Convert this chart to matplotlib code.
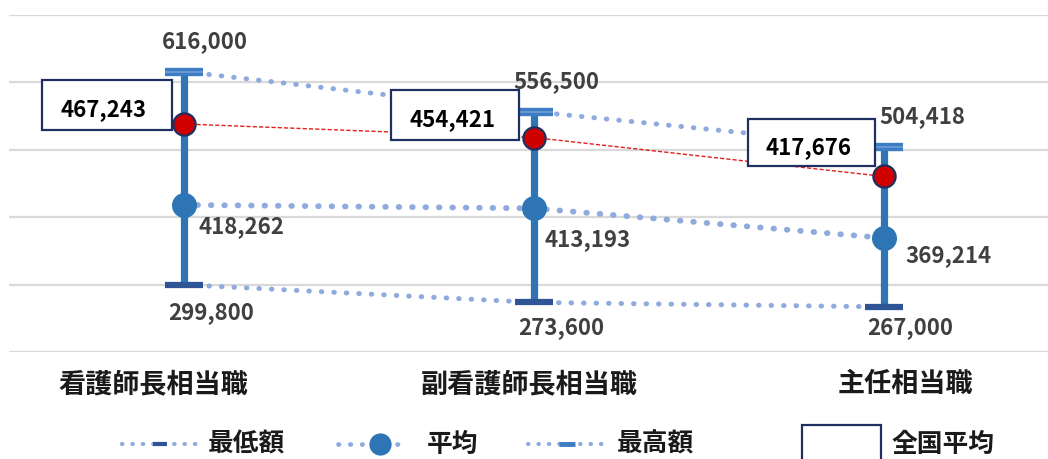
import matplotlib
matplotlib.use("Agg")
import matplotlib.pyplot as plt
import matplotlib.transforms as mtransforms
from matplotlib.patches import Rectangle
from matplotlib.lines import Line2D

plt.rcParams['font.family'] = ['Noto Sans CJK JP', 'DejaVu Sans']
plt.rcParams['font.weight'] = 'bold'

categories = ["看護師長相当職", "副看護師長相当職", "主任相当職"]
min_vals = [299800, 273600, 267000]
mean_vals = [418262, 413193, 369214]
max_vals = [616000, 556500, 504418]
national_vals = [467243, 454421, 417676]
legend_labels = ["最低額", "平均", "最高額", "全国平均"]

DPI = 100
fig = plt.figure(figsize=(10.48, 4.59), dpi=DPI)
ax = fig.add_axes([9 / 1048, 107 / 459, 1050 / 1048, 337 / 459])
ax2 = ax.twinx()

x = list(range(len(categories)))
ax.set_xlim(-0.5, 2.5)
ax.set_ylim(200000, 700000)
ax2.set_ylim(251800, 570200)

for a in (ax, ax2):
    for s in a.spines.values():
        s.set_visible(False)
ax2.set_yticks([])
ax.set_yticks([200000, 300000, 400000, 500000, 600000, 700000])
ax.set_yticklabels([])
ax.tick_params(axis='y', length=0)
ax.yaxis.grid(True, color='#D9D9D9', lw=1.6)
ax.set_axisbelow(True)

c_dot = '#8FAADC'
c_bar = '#2E75B6'
c_min = '#2F5597'
c_text = '#404040'
c_cat = '#1A1A1A'

# dotted connecting lines
ax.plot(x, max_vals, color=c_dot, lw=3.6, ls=(0, (0.1, 2.4)), dash_capstyle='round', zorder=2)
ax.plot(x, min_vals, color=c_dot, lw=3.6, ls=(0, (0.1, 2.4)), dash_capstyle='round', zorder=2)
ax.plot(x, mean_vals, color=c_dot, lw=4.2, ls=(0, (0.1, 2.2)), dash_capstyle='round', zorder=2)

# vertical range bars
ax.vlines(x, min_vals, max_vals, color=c_bar, lw=5.2, zorder=3)
ax.plot(x, max_vals, ls='none', marker='_', ms=28, mew=6, color='#3C7DC4', zorder=4)
ax.plot(x, max_vals, ls='none', marker='_', ms=27, mew=1.2, color='#6F9FD8', zorder=4.1)
ax.plot(x, min_vals, ls='none', marker='_', ms=28, mew=4.5, color=c_min, zorder=4)
ax.plot(x, mean_vals, ls='none', marker='o', ms=17, color=c_bar, mec=c_bar, zorder=5)

# national average on secondary axis
ax2.plot(x, national_vals, color='#E0201B', lw=1.0, ls=(0, (3, 1.5)), zorder=2)
ax2.plot(x, national_vals, ls='none', marker='o', ms=16, color='#D00000', mec='#1F2F5F', mew=1.6, zorder=6)


def px_off(a, xv, yv):
    return fig.dpi_scale_trans + mtransforms.ScaledTranslation(xv, yv, a.transData)

fs = 16
max_off = [(21, 30), (22, 30), (38, 30)]
min_off = [(27, -28), (27, -25), (26, -21)]
mean_off = [(14, -22), (10, -31), (21, -18)]
for i in x:
    ax.annotate(f"{max_vals[i]:,}", (i, max_vals[i]), xytext=max_off[i], textcoords='offset pixels',
                ha='center', va='center', fontsize=fs, color=c_text, fontweight='bold')
    ax.annotate(f"{min_vals[i]:,}", (i, min_vals[i]), xytext=min_off[i], textcoords='offset pixels',
                ha='center', va='center', fontsize=fs, color=c_text, fontweight='bold')
    ax.annotate(f"{mean_vals[i]:,}", (i, mean_vals[i]), xytext=mean_off[i], textcoords='offset pixels',
                ha='left', va='center', fontsize=fs, color=c_text, fontweight='bold')

box_off = [(-77, 19, 130, 50), (-79, 23, 128, 50), (-73, 34, 127, 47)]
for i in x:
    dx, dy, w, h = box_off[i]
    tr = px_off(ax2, i, national_vals[i])
    rect = Rectangle(((dx - w / 2) / DPI, (dy - h / 2) / DPI), w / DPI, h / DPI, transform=tr,
                     fill=True, facecolor='white', edgecolor='#1F2F5F', lw=1.6, zorder=7, clip_on=False)
    ax2.add_patch(rect)
    ax2.text((dx - 3) / DPI, (dy - 5) / DPI, f"{national_vals[i]:,}", transform=tr, ha='center', va='center',
             fontsize=fs, color='black', fontweight='bold', zorder=8)

# category labels
ax.set_xticks(x)
ax.set_xticklabels(categories, fontsize=19.5, color=c_cat, fontweight='bold')
ax.tick_params(axis='x', length=0, pad=13)
lab_dx = [-31, -5, 21]
for lab, d in zip(ax.get_xticklabels(), lab_dx):
    lab.set_transform(lab.get_transform() + mtransforms.Affine2D().translate(d, 0))

# legend (manual)
ly = 15 / 459
def fx(p):
    return p / 1048

def dotted(x0, x1, lw=3.0):
    fig.add_artist(Line2D([fx(x0), fx(x1)], [ly, ly], transform=fig.transFigure, color=c_dot, lw=lw,
                          ls=(0, (0.1, 2.4)), dash_capstyle='round'))

lfs = 18.5
dotted(122, 200)
fig.add_artist(Line2D([fx(160)], [ly], transform=fig.transFigure, marker='_', ms=10, mew=3, color=c_min, ls='none'))
fig.text(fx(208), ly, legend_labels[0], ha='left', va='center', fontsize=lfs, color=c_cat, fontweight='bold')

dotted(338, 408, lw=3.4)
fig.add_artist(Line2D([fx(380)], [ly], transform=fig.transFigure, marker='o', ms=15, color=c_bar, ls='none'))
fig.text(fx(427), ly, legend_labels[1], ha='left', va='center', fontsize=lfs, color=c_cat, fontweight='bold')

dotted(528, 605)
fig.add_artist(Line2D([fx(567)], [ly], transform=fig.transFigure, marker='_', ms=12, mew=3.5, color='#3C7DC4', ls='none'))
fig.text(fx(617), ly, legend_labels[2], ha='left', va='center', fontsize=lfs, color=c_cat, fontweight='bold')

fig.add_artist(Rectangle((fx(802), -10 / 459), fx(79), 44 / 459, transform=fig.transFigure,
                         facecolor='white', edgecolor='#1F2F5F', lw=1.6))
fig.text(fx(891), ly, legend_labels[3], ha='left', va='center', fontsize=lfs, color=c_cat, fontweight='bold')

fig.savefig("out.png", dpi=DPI)
